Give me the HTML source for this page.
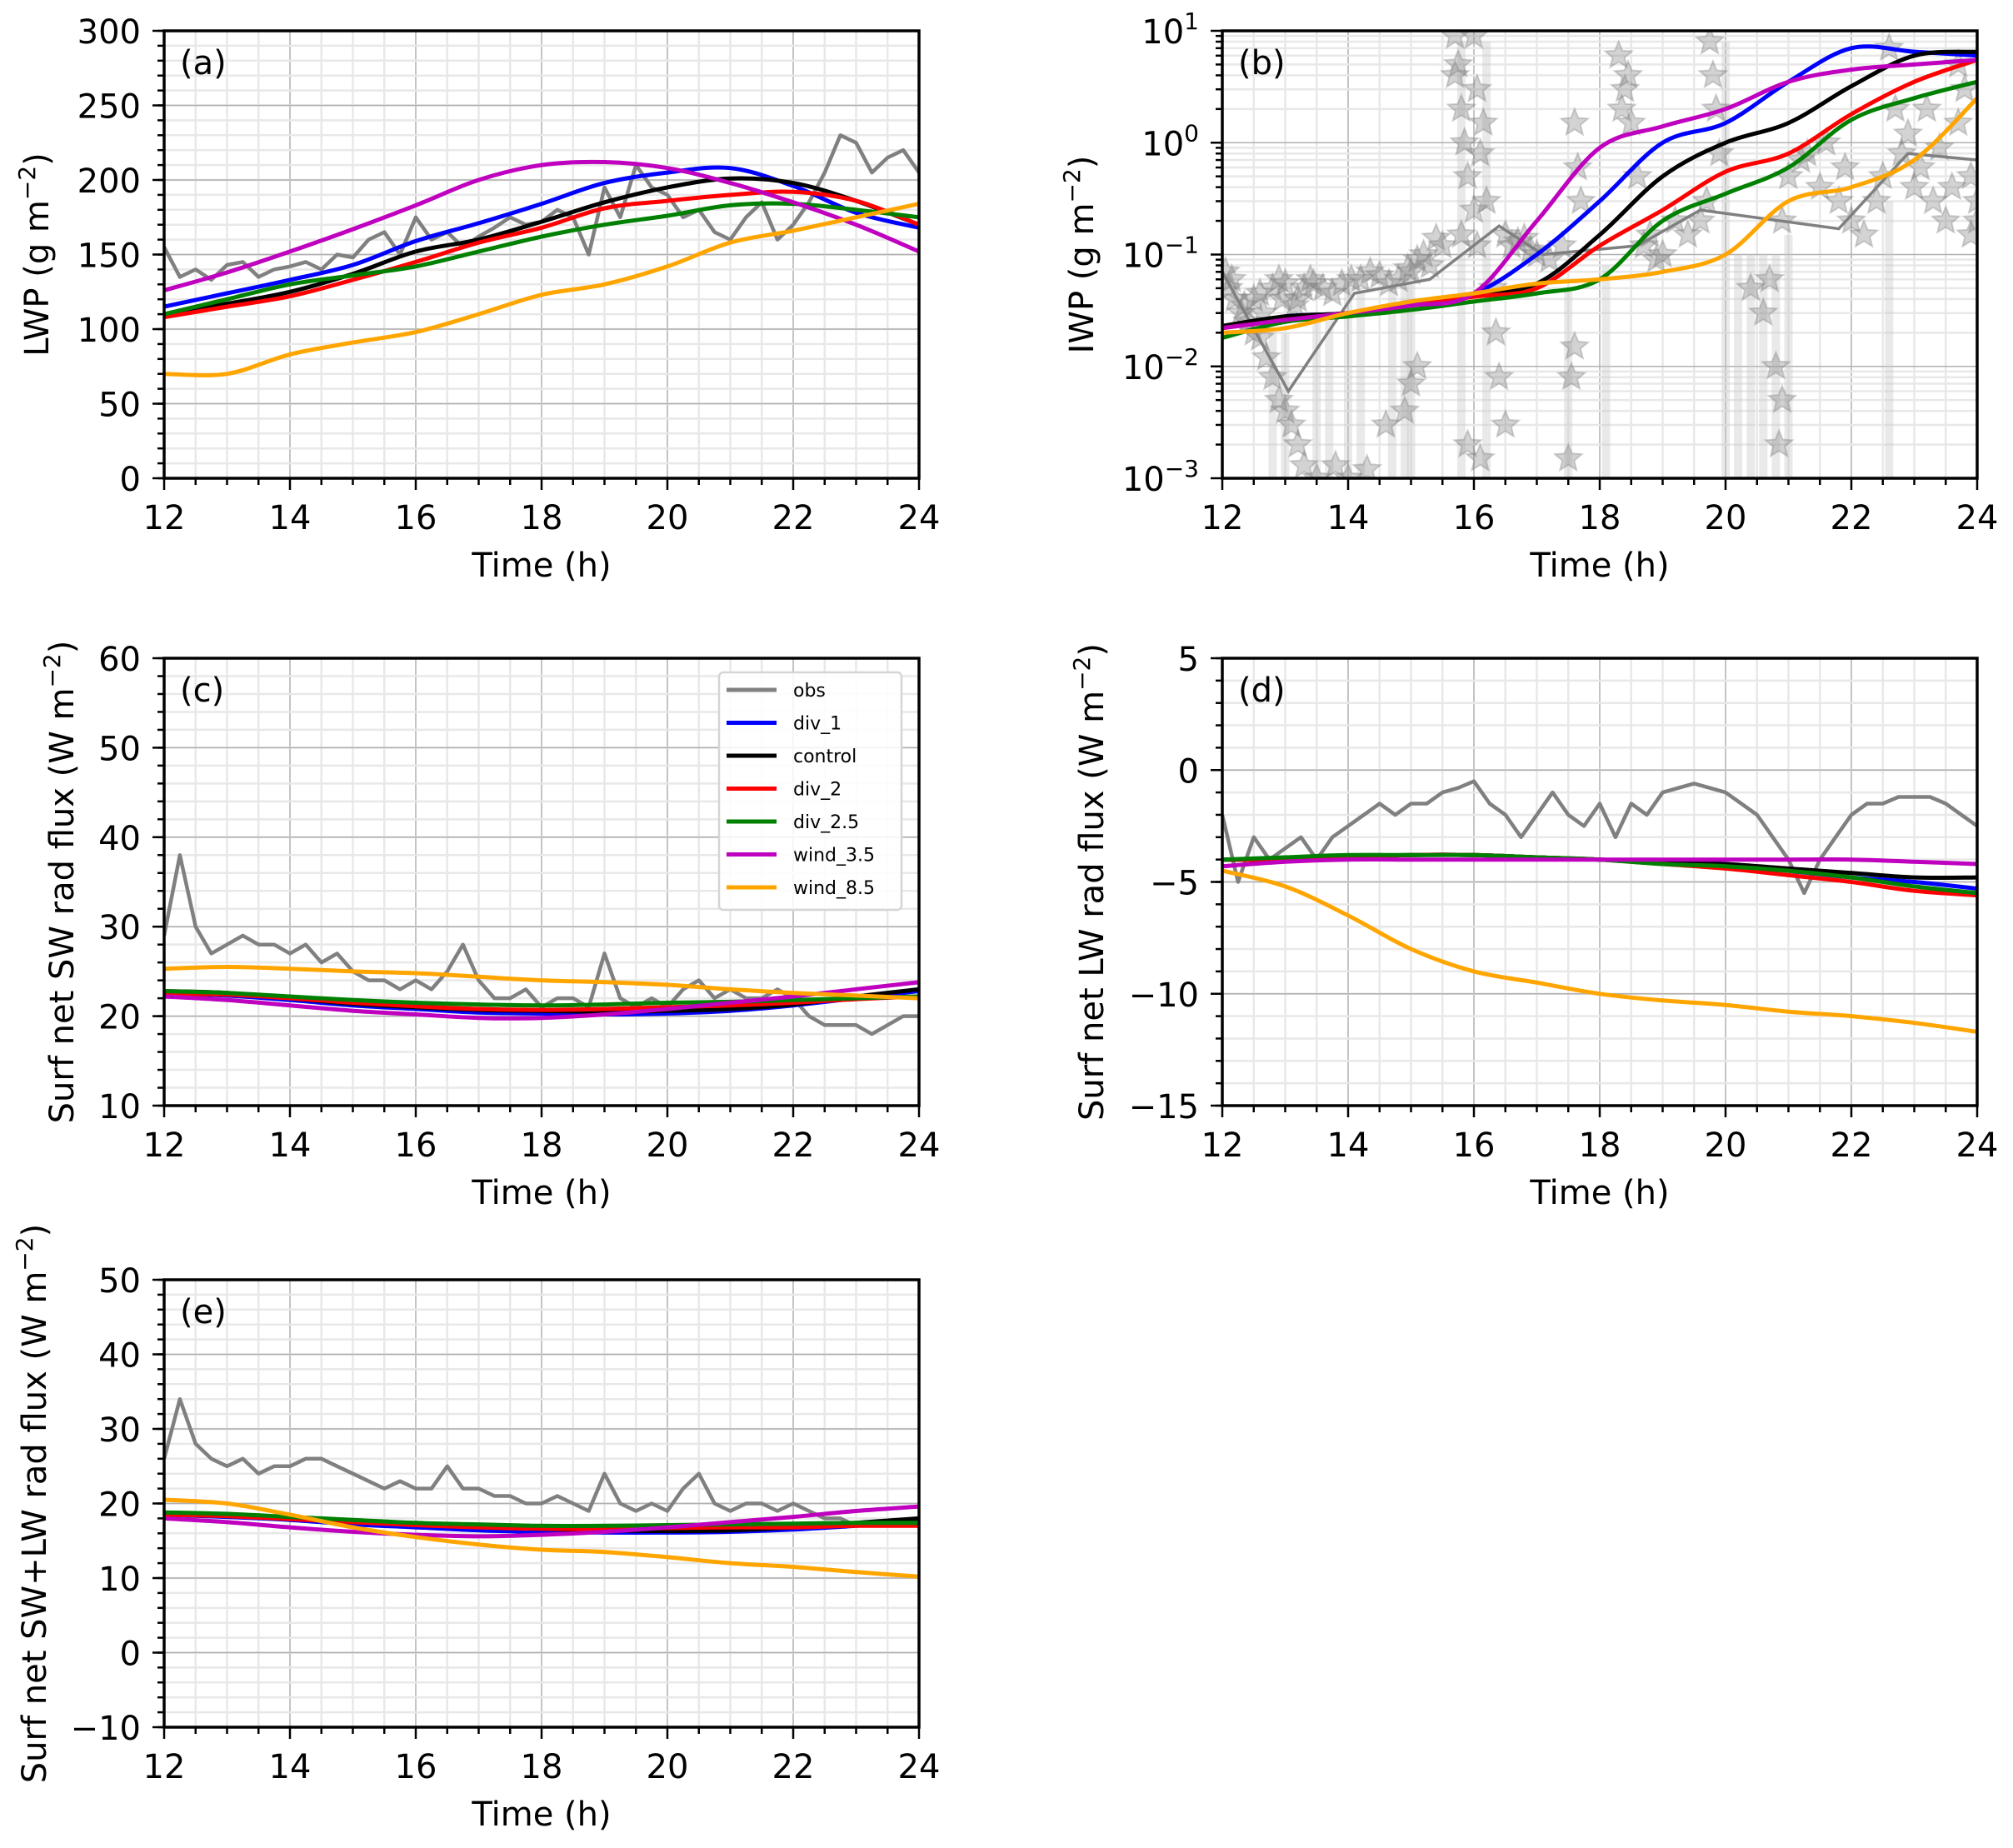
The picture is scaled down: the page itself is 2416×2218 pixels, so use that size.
<!DOCTYPE html>
<html><head><meta charset="utf-8">
<style>
html,body{margin:0;padding:0;background:#fff;}
svg{display:block;font-family:"DejaVu Sans","Liberation Sans",sans-serif;}
</style></head>
<body>
<svg id="fig" width="2416" height="2218" viewBox="0 0 2416 2218" xmlns="http://www.w3.org/2000/svg"></svg>
<script>
// ---------- DATA ----------
const hours = [12,13,14,15,16,17,18,19,20,21,22,23,24];
const obsTimes = [];
for (let i = 0; i <= 48; i++) obsTimes.push(12 + i * 0.25);

// (a) LWP
const aObs = [155,135,140,133, 143,145,135,140, 142,145,140,150, 148,160,165,150, 175,160,165,155, 162,168,175,170, 172,180,175,150, 195,175,210,195, 190,175,180,165, 160,175,185,160, 170,185,205,230, 225,205,215,220, 205];
const aDiv1 = [115,124,133,143,159,171,184,198,205,208,196,178,168];
const aControl = [110,117,125,137,152,160,172,185,195,201,198,186,170];
const aDiv2 = [108,115,122,133,145,158,168,181,186,190,192,186,170];
const aDiv25 = [110,120,130,136,142,152,162,170,176,183,184,180,175];
const aWind35 = [126,138,152,167,183,200,210,212,208,198,185,170,152];
const aWind85 = [70,70,83,91,98,110,123,130,142,158,166,175,184];

// (b) IWP
const bDiv1 = [0.022,0.028,0.030,0.038,0.045,0.10,0.30,1.0,1.5,3.5,7.0,6.5,6.0];
const bControl = [0.023,0.028,0.030,0.037,0.045,0.055,0.15,0.5,1.0,1.5,3.2,6.0,6.5];
const bDiv2 = [0.022,0.026,0.030,0.035,0.042,0.05,0.12,0.25,0.55,0.8,1.8,3.5,5.5];
const bDiv25 = [0.018,0.025,0.028,0.032,0.038,0.045,0.06,0.2,0.35,0.6,1.6,2.5,3.5];
const bWind35 = [0.022,0.026,0.030,0.035,0.045,0.2,0.9,1.4,2.0,3.5,4.5,5.0,5.5];
const bWind85 = [0.020,0.022,0.030,0.038,0.045,0.055,0.06,0.07,0.10,0.30,0.40,0.70,2.5];
const bObsLineT = [12,13.05,14.1,15.3,16.4,17.1,18.6,19.6,21.8,22.9,24];
const bObsLineV = [0.07,0.006,0.045,0.06,0.18,0.1,0.12,0.25,0.17,0.8,0.7];
const starT = [12.05,12.1,12.2,12.3,12.4,12.5,12.6,12.7,12.8,12.9,13.0,13.1,13.2,13.3,13.5,13.8,
  12.5,12.8,13.0,13.3,13.6,13.9,14.2,14.5,14.8,15.0,15.2,15.4,
  12.6,12.9,13.2,13.45,13.75,14.05,14.35,14.65,14.95,15.1,15.3,15.5,12.15,12.35,12.65,12.95,13.15,13.4,
  14.0,14.3,14.6,14.9,15.0,15.1,
  15.7,15.75,15.8,15.85,15.9,16.0,16.0,16.05,16.1,16.2,16.3,16.35,16.4,16.5,15.9,16.1,15.7,15.8,16.05,16.15,
  16.5,16.7,16.9,17.0,16.6,16.8,17.2,17.4, 17.6,17.65,17.6,17.55,17.5,17.7,
  18.3,18.4,18.5,18.6,18.8,19.0,19.2,18.35,18.45,18.7,18.9, 19.75,19.8,19.85,19.9,19.7,19.6,19.4,
  20.4,20.6,20.8,20.9,20.85,20.7,20.9, 21.0,21.3,21.6,21.9,21.2,21.5,21.8,22.0,
  22.6,22.7,22.8,23.0,23.3,23.5,23.7,23.8,23.9,24.0,22.4,22.2,22.5,22.9,23.1,23.4,23.6,23.9,23.2,23.7,24.0];
const starV = [0.07,0.05,0.04,0.03,0.025,0.02,0.018,0.012,0.008,0.005,0.004,0.003,0.002,0.0013,0.001,0.0013,
  0.04,0.05,0.055,0.05,0.05,0.055,0.06,0.065,0.06,0.07,0.1,0.14,
  0.045,0.06,0.04,0.055,0.045,0.06,0.07,0.055,0.075,0.09,0.08,0.12,0.06,0.035,0.03,0.04,0.035,0.06,
  0.001,0.0012,0.003,0.004,0.007,0.01,
  9,5,2,1,0.5,0.25,9,3,0.8,0.3,0.05,0.02,0.008,0.003,0.002,0.0015,4,0.15,0.12,1.5,
  0.15,0.13,0.11,0.1,0.12,0.14,0.09,0.12, 1.5,0.6,0.015,0.008,0.0015,0.3,
  6,3,1.5,0.5,0.15,0.1,0.2,2,4,0.12,0.09, 8,4,2,0.8,0.3,0.2,0.15,
  0.05,0.03,0.01,0.005,0.002,0.06,0.2, 0.5,0.8,1.0,0.6,0.7,0.4,0.3,0.2,
  7,2,0.8,0.4,0.3,0.2,1.5,3,0.5,0.2,0.3,0.15,0.5,1.2,0.6,0.9,0.4,0.15,2,5,0.3];
const bandT = [12.8,13.0,13.5,13.7,14.0,14.2,14.7,14.9,15.0,15.8,16.2,17.5,18.1,20.0,20.2,20.4,20.6,20.8,21.0,22.6];
const bandTop = [0.02,0.02,0.03,0.03,0.05,0.05,0.05,0.06,0.06,8,8,0.05,0.08,8,0.1,0.1,0.1,0.1,0.15,0.3];

// (c) SW
const cObs = [29,38,30,27, 28,29,28,28, 27,28,26,27, 25,24,24,23, 24,23,25,28, 24,22,22,23, 21,22,22,21, 27,22,21,22, 21,23,24,22, 23,22,22,23, 22,20,19,19, 19,18,19,20, 20];
const cDiv1 = [22.5,22.3,21.8,21.2,20.8,20.4,20.3,20.2,20.3,20.6,21.2,22.0,22.8];
const cControl = [22.8,22.6,22.0,21.4,21.0,20.7,20.6,20.5,20.6,20.8,21.3,22.2,23.0];
const cDiv2 = [22.5,22.4,22.0,21.5,21.1,20.8,20.7,20.8,21.0,21.2,21.5,21.9,22.2];
const cDiv25 = [22.8,22.6,22.2,21.8,21.5,21.3,21.2,21.3,21.5,21.6,21.8,22.0,22.2];
const cWind35 = [22.2,21.8,21.2,20.6,20.2,19.8,19.8,20.2,20.8,21.5,22.2,23.0,23.8];
const cWind85 = [25.3,25.5,25.3,25.0,24.8,24.4,24.0,23.8,23.5,23.0,22.6,22.3,22.0];

// (d) LW
const dObs = [-2,-5,-3,-4, -3.5,-3,-4,-3, -2.5,-2,-1.5,-2, -1.5,-1.5,-1,-0.8, -0.5,-1.5,-2,-3, -2,-1,-2,-2.5, -1.5,-3,-1.5,-2, -1,-0.8,-0.6,-0.8, -1,-1.5,-2,-3, -4,-5.5,-4,-3, -2,-1.5,-1.5,-1.2, -1.2,-1.2,-1.5,-2, -2.5];
const dDiv1 = [-4,-4,-3.9,-3.8,-3.8,-3.9,-4,-4.1,-4.2,-4.5,-4.8,-5,-5.3];
const dControl = [-4,-4,-3.9,-3.8,-3.8,-3.9,-4,-4.1,-4.2,-4.4,-4.6,-4.8,-4.8];
const dDiv2 = [-4,-4,-3.9,-3.8,-3.8,-3.9,-4,-4.2,-4.4,-4.7,-5,-5.4,-5.6];
const dDiv25 = [-4,-3.9,-3.8,-3.8,-3.8,-3.9,-4,-4.2,-4.3,-4.5,-4.8,-5.2,-5.5];
const dWind35 = [-4.3,-4.1,-4,-4,-4,-4,-4,-4,-4,-4,-4,-4.1,-4.2];
const dWind85 = [-4.5,-5.2,-6.5,-8,-9,-9.5,-10,-10.3,-10.5,-10.8,-11,-11.3,-11.7];

// (e) SW+LW
const eObs = [26,34,28,26, 25,26,24,25, 25,26,26,25, 24,23,22,23, 22,22,25,22, 22,21,21,20, 20,21,20,19, 24,20,19,20, 19,22,24,20, 19,20,20,19, 20,19,18,18, 17,17,17,17, 17];
const eDiv1 = [18.5,18.2,17.8,17.2,16.8,16.4,16.2,16.1,16.1,16.2,16.5,17,17.5];
const eControl = [18.6,18.4,18,17.6,17.2,16.9,16.6,16.4,16.3,16.4,16.8,17.4,18];
const eDiv2 = [18.5,18.3,17.9,17.5,17.1,16.8,16.6,16.6,16.7,16.8,16.8,17,17];
const eDiv25 = [18.8,18.6,18.2,17.8,17.4,17.2,17,17,17.1,17.2,17.3,17.4,17.4];
const eWind35 = [18,17.5,16.8,16.2,15.8,15.6,15.8,16.2,16.8,17.5,18.2,19,19.6];
const eWind85 = [20.5,20,18.5,16.8,15.5,14.5,13.8,13.5,12.8,12,11.5,10.8,10.2];

const xTicks = [12,14,16,18,20,22,24];
const legendLabels = ["obs","div_1","control","div_2","div_2.5","wind_3.5","wind_8.5"];
const seriesColors = ["#808080","#0000ff","#000000","#ff0000","#008000","#bf00bf","#ffa500"];
const seriesKeys = ["div-1","control","div-2","div-2-5","wind-3-5","wind-8-5"];

// ---------- DRAWING ----------
const NS = "http://www.w3.org/2000/svg";
const svg = document.getElementById("fig");
function mk(tag, attrs, parent) {
  const e = document.createElementNS(NS, tag);
  for (const k in attrs) e.setAttribute(k, attrs[k]);
  (parent || svg).appendChild(e);
  return e;
}
function smoothPath(pts) {
  if (pts.length < 2) return "";
  let d = "M" + pts[0][0].toFixed(1) + "," + pts[0][1].toFixed(1);
  for (let i = 0; i < pts.length - 1; i++) {
    const p0 = pts[Math.max(0, i - 1)], p1 = pts[i], p2 = pts[i + 1], p3 = pts[Math.min(pts.length - 1, i + 2)];
    const c1x = p1[0] + (p2[0] - p0[0]) / 6, c1y = p1[1] + (p2[1] - p0[1]) / 6;
    const c2x = p2[0] - (p3[0] - p1[0]) / 6, c2y = p2[1] - (p3[1] - p1[1]) / 6;
    d += "C" + c1x.toFixed(1) + "," + c1y.toFixed(1) + " " + c2x.toFixed(1) + "," + c2y.toFixed(1) + " " + p2[0].toFixed(1) + "," + p2[1].toFixed(1);
  }
  return d;
}

function panel(cfg) {
  const L = cfg.left, R = cfg.left + 906, T = cfg.top, B = cfg.top + 537;
  const g = mk("g", {});
  
  
  const xs = t => L + (t - 12) / 12 * (R - L);
  let ys;
  if (cfg.log) {
    const a = Math.log10(cfg.ymin), b = Math.log10(cfg.ymax);
    ys = v => B - (Math.log10(Math.max(v, 1e-4)) - a) / (b - a) * (B - T);
  } else {
    ys = v => B - (v - cfg.ymin) / (cfg.ymax - cfg.ymin) * (B - T);
  }
  const clipId = "clip-" + cfg.name;
  const cp = mk("clipPath", { id: clipId }, g);
  mk("rect", { x: L, y: T, width: R - L, height: B - T }, cp);

  const grid = mk("g", {}, g);
  
  
  for (let t = 12; t <= 24.001; t += 0.5) {
    const major = Math.abs(t - Math.round(t / 2) * 2) < 1e-6;
    mk("line", { x1: xs(t), x2: xs(t), y1: T, y2: B, stroke: major ? "#b0b0b0" : "#e8e8e8", "stroke-width": major ? 1.5 : 2.5 }, grid);
  }
  let yMinorVals = [], yMajorVals = [];
  if (cfg.log) {
    for (let e = -3; e <= 1; e++) { yMajorVals.push(Math.pow(10, e)); if (e < 1) for (let m = 2; m <= 9; m++) yMinorVals.push(m * Math.pow(10, e)); }
  } else {
    for (let v = cfg.ymin; v <= cfg.ymax + 1e-6; v += cfg.minor) yMinorVals.push(v);
    for (let v = cfg.ymin; v <= cfg.ymax + 1e-6; v += cfg.major) yMajorVals.push(v);
  }
  yMinorVals.forEach(v => mk("line", { x1: L, x2: R, y1: ys(v), y2: ys(v), stroke: "#e8e8e8", "stroke-width": 2.5 }, grid));
  yMajorVals.forEach(v => mk("line", { x1: L, x2: R, y1: ys(v), y2: ys(v), stroke: "#b0b0b0", "stroke-width": 1.5 }, grid));

  const plot = mk("g", { "clip-path": "url(#" + clipId + ")" }, g);

  if (cfg.log) {
    bandT.forEach((t, i) => {
      const r = mk("rect", { x: xs(t) - 5, y: ys(bandTop[i]), width: 10, height: B - ys(bandTop[i]), fill: "#c8c8c8", opacity: 0.4 }, plot);
      
      
    });
    starT.forEach((t, i) => {
      const cx = xs(t), cy = ys(starV[i]), r1 = 17, r2 = 7.5;
      let pts = [];
      for (let k = 0; k < 10; k++) {
        const ang = -Math.PI / 2 + k * Math.PI / 5, rr = k % 2 ? r2 : r1;
        pts.push((cx + rr * Math.cos(ang)).toFixed(1) + "," + (cy + rr * Math.sin(ang)).toFixed(1));
      }
      const s = mk("polygon", { points: pts.join(" "), fill: "#808080", "fill-opacity": 0.35, stroke: "#808080", "stroke-opacity": 0.35, "stroke-width": 2 }, plot);
      
      
    });
    const ol = mk("polyline", { points: bObsLineT.map((t, i) => xs(t) + "," + ys(bObsLineV[i])).join(" "), fill: "none", stroke: "#808080", "stroke-width": 3.5 }, plot);
    
    
  } else {
    const op = mk("polyline", { points: obsTimes.map((t, i) => xs(t).toFixed(1) + "," + ys(cfg.obs[i]).toFixed(1)).join(" "), fill: "none", stroke: "#808080", "stroke-width": 4.5, "stroke-linejoin": "round" }, plot);
    
    
  }
  cfg.series.forEach((arr, si) => {
    const p = mk("path", { d: smoothPath(hours.map((t, i) => [xs(t), ys(arr[i])])), fill: "none", stroke: seriesColors[si + 1], "stroke-width": 5, "stroke-linejoin": "round" }, plot);
    
    
  });

  mk("rect", { x: L, y: T, width: R - L, height: B - T, fill: "none", stroke: "#000", "stroke-width": 3.5 }, g);

  const xa = mk("g", {}, g);
  
  
  for (let t = 12; t <= 24.001; t += 0.5) {
    const major = Math.abs(t - Math.round(t / 2) * 2) < 1e-6;
    mk("line", { x1: xs(t), x2: xs(t), y1: B, y2: B + (major ? 14 : 8), stroke: "#000", "stroke-width": 2.5 }, xa);
  }
  xTicks.forEach(t => {
    const tx = mk("text", { x: xs(t), y: B + 61, "font-size": 40, "text-anchor": "middle" }, xa);
    tx.textContent = t;
    
    
  });
  const xt = mk("text", { x: (L + R) / 2, y: B + 118, "font-size": 40, "text-anchor": "middle" }, xa);
  xt.textContent = "Time (h)";
  
  

  const ya = mk("g", {}, g);
  
  
  yMinorVals.forEach(v => mk("line", { x1: L - 8, x2: L, y1: ys(v), y2: ys(v), stroke: "#000", "stroke-width": 2.5 }, ya));
  yMajorVals.forEach(v => {
    mk("line", { x1: L - 14, x2: L, y1: ys(v), y2: ys(v), stroke: "#000", "stroke-width": 2.5 }, ya);
    const tx = mk("text", { x: L - 28, y: ys(v) + 15, "font-size": 40, "text-anchor": "end" }, ya);
    
    
    if (cfg.log) {
      const e = Math.round(Math.log10(v));
      tx.appendChild(document.createTextNode("10"));
      const sp = mk("tspan", { dy: -17, "font-size": 28 }, tx);
      sp.textContent = e < 0 ? "\u2212" + (-e) : String(e);
    } else {
      tx.textContent = v < 0 ? "\u2212" + (-v) : String(v);
    }
  });
  const yc = (T + B) / 2;
  const yt = mk("text", { x: cfg.ylabelX, y: yc, "font-size": 40, "text-anchor": "middle", transform: "rotate(-90 " + cfg.ylabelX + " " + yc + ")" }, ya);
  
  
  yt.appendChild(document.createTextNode(cfg.ylabel));
  const sup = mk("tspan", { dy: -16, "font-size": 28 }, yt);
  sup.textContent = "\u22122";
  const close = mk("tspan", { dy: 16 }, yt);
  close.textContent = ")";

  const pl = mk("text", { x: L + 19, y: T + 52, "font-size": 40 }, g);
  pl.textContent = cfg.tag;
  
  
  return { L, R, T, B };
}

panel({ name: "panel-a-lwp", tag: "(a)", left: 197, top: 37, ymin: 0, ymax: 300, major: 50, minor: 10, obs: aObs,
  series: [aDiv1, aControl, aDiv2, aDiv25, aWind35, aWind85], ylabel: "LWP (g m", ylabelX: 58 });
panel({ name: "panel-b-iwp", tag: "(b)", left: 1467, top: 37, log: true, ymin: 0.001, ymax: 10,
  series: [bDiv1, bControl, bDiv2, bDiv25, bWind35, bWind85], ylabel: "IWP (g m", ylabelX: 1312 });
panel({ name: "panel-c-sw", tag: "(c)", left: 197, top: 790, ymin: 10, ymax: 60, major: 10, minor: 2, obs: cObs,
  series: [cDiv1, cControl, cDiv2, cDiv25, cWind35, cWind85], ylabel: "Surf net SW rad flux (W m", ylabelX: 88 });
panel({ name: "panel-d-lw", tag: "(d)", left: 1467, top: 790, ymin: -15, ymax: 5, major: 5, minor: 1, obs: dObs,
  series: [dDiv1, dControl, dDiv2, dDiv25, dWind35, dWind85], ylabel: "Surf net LW rad flux (W m", ylabelX: 1324 });
panel({ name: "panel-e-swlw", tag: "(e)", left: 197, top: 1536, ymin: -10, ymax: 50, major: 10, minor: 2, obs: eObs,
  series: [eDiv1, eControl, eDiv2, eDiv25, eWind35, eWind85], ylabel: "Surf net SW+LW rad flux (W m", ylabelX: 55 });

const lg = mk("g", {});


mk("rect", { x: 863, y: 807, width: 219, height: 285, rx: 5, fill: "#fff", "fill-opacity": 0.85, stroke: "#d5d5d5", "stroke-width": 2.5 }, lg);
legendLabels.forEach((lab, i) => {
  const y = 828 + i * 39.5;
  const e = mk("g", {}, lg);
  
  
  mk("line", { x1: 872, x2: 932, y1: y, y2: y, stroke: seriesColors[i], "stroke-width": 5 }, e);
  const t = mk("text", { x: 952, y: y + 8, "font-size": 22 }, e);
  t.textContent = lab;
});
</script>
</body></html>
